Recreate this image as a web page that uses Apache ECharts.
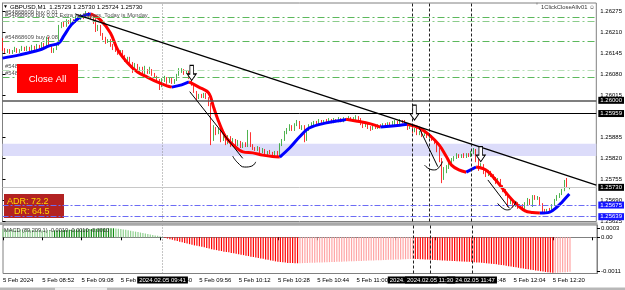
<!DOCTYPE html>
<html><head><meta charset="utf-8">
<script src="https://cdn.jsdelivr.net/npm/echarts@6/dist/echarts.min.js"></script>
<style>html,body{margin:0;padding:0;background:#fff}#c{width:625px;height:290px}</style>
</head><body><div id="c"></div>
<script>
// ---- time axis (M1 bars, 5 Feb 2024) ----
const firstBarTime = '08:36';
const barSlots = 243;               // 08:36 .. 12:38 (chart shift included)
const firstTickLabel = '5 Feb 2024';

// ---- candles (GBPUSD M1) ----
const opens = [
1.26187,1.26156,1.26150,1.26156,1.26147,1.26153,1.26159,1.26150,1.26156,1.26162,
1.26156,1.26162,1.26156,1.26166,1.26159,1.26169,1.26162,1.26175,1.26166,1.26193,
1.26169,1.26150,1.26159,1.26172,1.26228,1.26237,1.26231,1.26246,1.26240,1.26249,
1.26243,1.26255,1.26252,1.26262,1.26259,1.26271,1.26265,1.26255,1.26243,1.26218,
1.26231,1.26203,1.26193,1.26181,1.26187,1.26169,1.26162,1.26156,1.26147,1.26153,
1.26138,1.26125,1.26131,1.26113,1.26094,1.26110,1.26091,1.26100,1.26082,1.26094,
1.26085,1.26094,1.26079,1.26072,1.26063,1.26045,1.26063,1.26069,1.26057,1.26066,
1.26054,1.26063,1.26079,1.26088,1.26094,1.26085,1.26088,1.26069,1.26048,1.26026,
1.26007,1.26017,1.26010,1.26020,1.26007,1.25985,1.25877,1.25914,1.25898,1.25908,
1.25877,1.25892,1.25867,1.25886,1.25861,1.25877,1.25861,1.25870,1.25855,1.25867,
1.25858,1.25898,1.25858,1.25852,1.25846,1.25852,1.25840,1.25846,1.25830,1.25840,
1.25836,1.25830,1.25840,1.25827,1.25861,1.25877,1.25898,1.25908,1.25920,1.25908,
1.25923,1.25932,1.25914,1.25920,1.25877,1.25908,1.25923,1.25926,1.25932,1.25926,
1.25936,1.25929,1.25936,1.25932,1.25939,1.25932,1.25939,1.25936,1.25942,1.25936,
1.25942,1.25939,1.25945,1.25939,1.25942,1.25948,1.25942,1.25926,1.25920,1.25929,
1.25917,1.25911,1.25920,1.25914,1.25923,1.25920,1.25926,1.25923,1.25929,1.25923,
1.25929,1.25932,1.25929,1.25936,1.25932,1.25926,1.25914,1.25917,1.25905,1.25911,
1.25895,1.25901,1.25892,1.25895,1.25886,1.25889,1.25877,1.25870,1.25846,1.25815,
1.25762,1.25784,1.25790,1.25808,1.25815,1.25821,1.25830,1.25824,1.25830,1.25824,
1.25833,1.25827,1.25836,1.25846,1.25815,1.25790,1.25799,1.25777,1.25768,1.25777,
1.25768,1.25759,1.25746,1.25753,1.25734,1.25722,1.25709,1.25681,1.25691,1.25675,
1.25681,1.25669,1.25675,1.25666,1.25678,1.25691,1.25681,1.25700,1.25694,1.25697,
1.25678,1.25660,1.25653,1.25660,1.25656,1.25675,1.25691,1.25700,1.25709,1.25722,
1.25746,1.25729];
const closes = [
1.26156,1.26150,1.26156,1.26147,1.26153,1.26159,1.26150,1.26156,1.26162,1.26156,
1.26162,1.26156,1.26166,1.26159,1.26169,1.26162,1.26175,1.26166,1.26193,1.26169,
1.26150,1.26159,1.26172,1.26228,1.26237,1.26231,1.26246,1.26240,1.26249,1.26243,
1.26255,1.26252,1.26262,1.26259,1.26271,1.26265,1.26255,1.26243,1.26218,1.26231,
1.26203,1.26193,1.26181,1.26187,1.26169,1.26162,1.26156,1.26147,1.26153,1.26138,
1.26125,1.26131,1.26113,1.26094,1.26110,1.26091,1.26100,1.26082,1.26094,1.26085,
1.26094,1.26079,1.26072,1.26063,1.26045,1.26063,1.26069,1.26057,1.26066,1.26054,
1.26063,1.26079,1.26088,1.26094,1.26085,1.26088,1.26069,1.26048,1.26026,1.26007,
1.26017,1.26010,1.26020,1.26007,1.25985,1.25877,1.25914,1.25898,1.25908,1.25877,
1.25892,1.25867,1.25886,1.25861,1.25877,1.25861,1.25870,1.25855,1.25867,1.25858,
1.25898,1.25858,1.25852,1.25846,1.25852,1.25840,1.25846,1.25830,1.25840,1.25836,
1.25830,1.25840,1.25827,1.25861,1.25877,1.25898,1.25908,1.25920,1.25908,1.25923,
1.25932,1.25914,1.25920,1.25877,1.25908,1.25923,1.25926,1.25932,1.25926,1.25936,
1.25929,1.25936,1.25932,1.25939,1.25932,1.25939,1.25936,1.25942,1.25936,1.25942,
1.25939,1.25945,1.25939,1.25942,1.25948,1.25942,1.25926,1.25920,1.25929,1.25917,
1.25911,1.25920,1.25914,1.25923,1.25920,1.25926,1.25923,1.25929,1.25923,1.25929,
1.25932,1.25929,1.25936,1.25932,1.25926,1.25914,1.25917,1.25905,1.25911,1.25895,
1.25901,1.25892,1.25895,1.25886,1.25889,1.25877,1.25870,1.25846,1.25815,1.25762,
1.25784,1.25790,1.25808,1.25815,1.25821,1.25830,1.25824,1.25830,1.25824,1.25833,
1.25827,1.25836,1.25846,1.25815,1.25790,1.25799,1.25777,1.25768,1.25777,1.25768,
1.25759,1.25746,1.25753,1.25734,1.25722,1.25709,1.25681,1.25691,1.25675,1.25681,
1.25669,1.25675,1.25666,1.25678,1.25691,1.25681,1.25700,1.25694,1.25697,1.25678,
1.25660,1.25653,1.25660,1.25656,1.25675,1.25691,1.25700,1.25709,1.25722,1.25746,
1.25731,1.25730];
const lows = [
1.26153,1.26147,1.26147,1.26144,1.26144,1.26150,1.26147,1.26147,1.26153,1.26153,
1.26153,1.26150,1.26153,1.26156,1.26156,1.26159,1.26159,1.26162,1.26162,1.26166,
1.26147,1.26147,1.26156,1.26169,1.26224,1.26228,1.26228,1.26237,1.26237,1.26240,
1.26240,1.26249,1.26249,1.26252,1.26255,1.26259,1.26252,1.26237,1.26212,1.26215,
1.26200,1.26187,1.26175,1.26178,1.26166,1.26156,1.26150,1.26141,1.26144,1.26135,
1.26119,1.26122,1.26107,1.26085,1.26091,1.26088,1.26088,1.26079,1.26079,1.26082,
1.26082,1.26076,1.26069,1.26060,1.26032,1.26041,1.26057,1.26051,1.26054,1.26051,
1.26051,1.26060,1.26076,1.26085,1.26079,1.26082,1.26066,1.26045,1.26023,1.26001,
1.26004,1.26007,1.26007,1.26004,1.25982,1.25861,1.25874,1.25892,1.25895,1.25870,
1.25874,1.25861,1.25864,1.25855,1.25858,1.25855,1.25858,1.25852,1.25852,1.25855,
1.25855,1.25855,1.25846,1.25843,1.25843,1.25836,1.25836,1.25827,1.25827,1.25833,
1.25824,1.25827,1.25821,1.25824,1.25858,1.25874,1.25895,1.25905,1.25905,1.25905,
1.25920,1.25911,1.25908,1.25870,1.25874,1.25905,1.25920,1.25923,1.25923,1.25923,
1.25926,1.25926,1.25929,1.25929,1.25929,1.25929,1.25932,1.25932,1.25932,1.25932,
1.25936,1.25936,1.25936,1.25936,1.25939,1.25939,1.25923,1.25914,1.25917,1.25911,
1.25905,1.25908,1.25911,1.25911,1.25917,1.25917,1.25920,1.25920,1.25920,1.25920,
1.25923,1.25926,1.25926,1.25929,1.25923,1.25908,1.25911,1.25898,1.25901,1.25892,
1.25892,1.25886,1.25889,1.25883,1.25883,1.25874,1.25864,1.25839,1.25808,1.25743,
1.25753,1.25774,1.25787,1.25802,1.25811,1.25818,1.25821,1.25821,1.25821,1.25821,
1.25824,1.25824,1.25833,1.25808,1.25781,1.25787,1.25771,1.25762,1.25765,1.25762,
1.25753,1.25740,1.25743,1.25728,1.25715,1.25703,1.25669,1.25678,1.25669,1.25669,
1.25663,1.25666,1.25660,1.25663,1.25675,1.25675,1.25669,1.25691,1.25691,1.25672,
1.25653,1.25647,1.25650,1.25653,1.25653,1.25672,1.25688,1.25697,1.25706,1.25718,
1.25728,1.25724];
const highs = [
1.26193,1.26162,1.26159,1.26159,1.26156,1.26166,1.26162,1.26159,1.26169,1.26166,
1.26169,1.26166,1.26172,1.26169,1.26175,1.26172,1.26181,1.26178,1.26197,1.26197,
1.26172,1.26162,1.26175,1.26234,1.26243,1.26243,1.26252,1.26249,1.26255,1.26252,
1.26262,1.26262,1.26268,1.26268,1.26277,1.26274,1.26268,1.26259,1.26255,1.26234,
1.26234,1.26209,1.26197,1.26190,1.26190,1.26175,1.26166,1.26159,1.26156,1.26156,
1.26141,1.26135,1.26135,1.26119,1.26116,1.26113,1.26104,1.26104,1.26107,1.26097,
1.26104,1.26097,1.26085,1.26076,1.26066,1.26069,1.26076,1.26072,1.26072,1.26069,
1.26066,1.26082,1.26100,1.26100,1.26097,1.26094,1.26091,1.26072,1.26051,1.26029,
1.26020,1.26020,1.26023,1.26023,1.26010,1.25992,1.25923,1.25917,1.25914,1.25911,
1.25898,1.25895,1.25892,1.25889,1.25883,1.25880,1.25877,1.25874,1.25870,1.25870,
1.25908,1.25901,1.25864,1.25855,1.25858,1.25855,1.25852,1.25849,1.25843,1.25846,
1.25840,1.25843,1.25843,1.25867,1.25880,1.25905,1.25914,1.25926,1.25923,1.25929,
1.25939,1.25936,1.25923,1.25923,1.25911,1.25926,1.25932,1.25936,1.25936,1.25942,
1.25939,1.25939,1.25942,1.25945,1.25942,1.25945,1.25942,1.25948,1.25945,1.25948,
1.25945,1.25951,1.25948,1.25948,1.25954,1.25951,1.25945,1.25929,1.25932,1.25932,
1.25920,1.25923,1.25923,1.25926,1.25926,1.25929,1.25929,1.25932,1.25932,1.25936,
1.25939,1.25936,1.25942,1.25939,1.25939,1.25929,1.25920,1.25920,1.25914,1.25914,
1.25905,1.25905,1.25898,1.25898,1.25892,1.25892,1.25880,1.25874,1.25852,1.25821,
1.25793,1.25799,1.25815,1.25821,1.25827,1.25836,1.25833,1.25833,1.25836,1.25836,
1.25836,1.25843,1.25852,1.25849,1.25818,1.25805,1.25802,1.25781,1.25784,1.25781,
1.25771,1.25762,1.25759,1.25756,1.25737,1.25725,1.25712,1.25697,1.25694,1.25688,
1.25684,1.25678,1.25678,1.25684,1.25697,1.25694,1.25706,1.25706,1.25703,1.25700,
1.25681,1.25663,1.25663,1.25666,1.25678,1.25694,1.25706,1.25712,1.25725,1.25753,
1.25759,1.25730];

// ---- colour-changing moving average (bar index, price) ----
const maIdx = [0,7,15,19,23,25,28,31,34,36,40,44,47,51,55,59,63,67,69,73,76,80,84,86,88,91,95,98,102,106,110,113,117,121,125,132,139,140,144,150,154,162,165,170,174,178,181,183,186,189,193,197,201,205,209,213,216,219,223,226,228,231];
const maVals = [1.26131,1.26141,1.26156,1.26169,1.26178,1.26200,1.26234,1.26255,1.26265,1.26268,1.26249,1.26209,1.26156,1.26116,1.26088,1.26072,1.26057,1.26045,1.26041,1.26048,1.26057,1.26041,1.26023,1.25979,1.25936,1.25886,1.25855,1.25840,1.25837,1.25830,1.25826,1.25824,1.25852,1.25886,1.25914,1.25930,1.25939,1.25941,1.25936,1.25927,1.25917,1.25923,1.25926,1.25914,1.25892,1.25861,1.25824,1.25799,1.25784,1.25777,1.25793,1.25784,1.25753,1.25715,1.25681,1.25657,1.25652,1.25650,1.25653,1.25669,1.25684,1.25709];

// ---- MACD (89,209,1) histogram ----
const macdHist = [
0.000260,0.000258,0.000256,0.000254,0.000252,0.000250,0.000248,0.000246,0.000244,0.000242,0.000240,0.000238,0.000236,0.000234,0.000232,0.000230,0.000228,0.000226,0.000224,0.000222,0.000220,
0.000222,0.000225,0.000228,0.000231,0.000234,0.000237,0.000240,0.000243,0.000246,0.000249,0.000252,0.000255,0.000258,0.000261,0.000264,0.000267,0.000270,0.000273,0.000276,0.000279,0.000281,0.000283,0.000285,0.000287,0.000289,
0.000285,0.000276,0.000265,0.000253,0.000240,0.000226,0.000211,0.000196,0.000181,0.000166,0.000151,0.000136,0.000121,0.000106,0.000091,0.000076,0.000061,0.000046,0.000031,0.000016,
-0.00002,-0.00004,-0.00006,-0.00008,-0.00010,-0.00012,-0.00014,-0.00016,-0.00018,-0.00020,-0.00022,-0.00024,-0.00026,-0.00027,-0.00029,-0.00030,-0.00032,-0.00034,-0.00036,-0.00038,-0.00040,-0.00041,-0.00043,-0.00044,-0.00046,-0.00047,-0.00048,-0.00050,-0.00051,-0.00053,-0.00054,-0.00056,-0.00057,-0.00059,-0.00060,-0.00062,-0.00063,-0.00065,-0.00066,-0.00068,-0.00069,-0.00071,-0.00072,-0.00074,-0.00075,-0.00077,-0.00078,-0.00079,-0.00080,-0.00081,-0.00082,-0.000822,-0.000826,-0.000829,-0.000831,
-0.000828,-0.000826,-0.000823,-0.000821,-0.000818,-0.000814,-0.000812,-0.000809,-0.000805,-0.000803,-0.000800,-0.000797,-0.000795,-0.000791,-0.000788,-0.000786,-0.000782,-0.000779,-0.000777,-0.000773,-0.000770,-0.000768,-0.000764,-0.000761,-0.000758,-0.000755,-0.000753,-0.000749,-0.000746,-0.000744,-0.000740,-0.000737,-0.000735,-0.000731,-0.000728,-0.000725,-0.000722,-0.000720,-0.000716,-0.000713,-0.000710,-0.000707,-0.000704,-0.000701,-0.000698,-0.000695,-0.000692,
-0.000695,-0.000698,-0.000702,-0.000706,-0.000710,-0.000714,-0.000718,-0.000722,-0.000727,-0.000732,-0.000737,-0.000741,-0.000745,-0.000749,-0.000753,-0.000757,-0.000761,-0.000765,-0.000769,-0.000773,-0.000777,-0.000781,-0.000786,-0.000791,-0.000797,-0.000803,-0.000810,-0.000817,-0.000824,-0.000832,-0.000840,-0.000848,-0.000857,-0.000866,-0.000876,-0.000886,-0.000897,-0.000910,-0.000923,-0.000936,-0.000949,-0.000962,-0.000975,-0.000988,-0.001000,-0.001012,-0.001024,-0.001036,-0.001048,-0.001060,-0.001072,-0.001084,-0.001096,-0.001108,-0.001120,-0.001130,-0.001138,
-0.001135,-0.001131,-0.001127,-0.001122,-0.001117,-0.001111,-0.001105];

// ---- axis ticks ----
const priceTicks = [1.26275,1.26210,1.26145,1.26080,1.26015,1.25885,1.25820,1.25755,1.25690,1.25625];
const macdTicks = [0.0003, 0, -0.0011];

// ---- drawn objects / levels ----
const orderLevels = [1.26258, 1.26245, 1.26183, 1.26092, 1.26071];
const orderLevelColors = ['#5cb85c','#8ccc8c','#5cb85c','#b8e0b8','#5cb85c'];
const srLevels = [1.26000, 1.25959];
const pivotLevels = [1.25675, 1.25639];
const currentPrice = 1.25730;
const zoneBand = [1.25827, 1.25865];
const trendLine = [[30, 1.26267], [242, 1.25737]];
const moveLines = [[[76.3,1.26027],[97.9,1.25820]], [[169.9,1.25913],[177.4,1.25794]], [[197.8,1.25753],[206.6,1.25665]]];
const arcs = [
  [[93.8,1.25827],[95.9,1.25806],[98.7,1.25793],[101.6,1.25796],[103.2,1.25809]],
  [[172.0,1.25799],[174.0,1.25787],[176.1,1.25784],[178.1,1.25794],[179.3,1.25810]],
  [[201.8,1.25680],[203.9,1.25665],[205.9,1.25660],[208.0,1.25670],[209.3,1.25686]]];
const arrowMarks = [[77.1,1.26085],[167.9,1.25962],[194.9,1.25833]];
const pipLabels = [['20p',104.9,1.25784],['8p',175.2,1.25750],['10p',197,1.25681]];
const pivotLabels = [['Daily S1',211,1.25661],['Weekly S1',200.5,1.25630]];
const vLines = [65, 167, 191, 174];
const vLineLabels = ['2024.02.05 09:41','2024.02.05 11:23','2024.02.05 11:47','2024.02.05 11:30'];

// ---------------------------------------------------------------
const FONT = 'Liberation Sans';
const [h0, m0] = firstBarTime.split(':').map(Number);
const cats = [];
for (let k = 0; k < barSlots; k++) {
  const t = h0 * 60 + m0 + k;
  cats.push(String(Math.floor(t / 60)).padStart(2, '0') + ':' + String(t % 60).padStart(2, '0'));
}
const candleData = opens.map((o, k) => [o, closes[k], lows[k], highs[k]]);

// MA split into rising (blue) / falling (red) runs
const maSeries = [];
let run = null;
for (let k = 1; k < maIdx.length; k++) {
  const up = maVals[k] > maVals[k - 1];
  if (!run || run.up !== up) {
    run = { up, pts: [[maIdx[k - 1], maVals[k - 1]]] };
    maSeries.push(run);
  }
  run.pts.push([maIdx[k], maVals[k]]);
}

function macdColor(k) {
  const v = macdHist[k], p = k > 0 ? macdHist[k - 1] : v;
  if (v >= 0) return v > p ? '#128c12' : '#8fd08f';
  return v < p ? '#ff0000' : '#ffa4a4';
}

const boxLabel = (txt, bg) => ({ show: true, position: 'end', formatter: txt, backgroundColor: bg, color: '#fff',
  fontSize: 6, fontFamily: FONT, padding: [1, 2, 0, 2], distance: 2 });

// horizontal price levels
const hLines = [];
orderLevels.forEach((v, k) => hLines.push({ yAxis: v, lineStyle: { color: orderLevelColors[k], width: 1, type: [7, 3, 2, 3] }, label: { show: false } }));
hLines.push({ yAxis: currentPrice, lineStyle: { color: '#c8c8c8', width: 1, type: 'solid' }, label: boxLabel(currentPrice.toFixed(5), '#000') });
hLines.push({ yAxis: srLevels[0], lineStyle: { color: '#555', width: 1.5, type: 'solid' }, label: boxLabel(srLevels[0].toFixed(5), '#000') });
hLines.push({ yAxis: srLevels[1], lineStyle: { color: '#000', width: 1, type: 'solid' }, label: boxLabel(srLevels[1].toFixed(5), '#000') });
pivotLevels.forEach(v => hLines.push({ yAxis: v, lineStyle: { color: '#6c6cf4', width: 1, type: [6, 2, 2, 2] }, label: boxLabel(v.toFixed(5), '#1414ff') }));

// vertical lines (main panel)
const vLinesMain = vLines.map((ix, k) => ({ xAxis: cats[ix], lineStyle: k === 0 ? { color: '#8a8a8a', width: 1, type: [1, 2] } : { color: '#222', width: 1, type: [3, 2] }, label: { show: false } }));

const annotLines = hLines.slice();
annotLines.push([{ coord: trendLine[0], lineStyle: { color: '#000', width: 1.3, type: 'solid' } }, { coord: trendLine[1] }]);
moveLines.forEach(l => annotLines.push([{ coord: l[0], lineStyle: { color: '#000', width: 1, type: 'solid' } }, { coord: l[1] }]));

const annotPoints = [];
arrowMarks.forEach(a => annotPoints.push({ coord: a, symbol: 'path://M3,0 L7,0 L7,8 L10,8 L5,14 L0,8 L3,8 Z', symbolSize: [9, 15],
  itemStyle: { color: '#fff', borderColor: '#000', borderWidth: 1 }, label: { show: false } }));
pipLabels.forEach(p => annotPoints.push({ coord: [p[1], p[2]], symbol: 'rect', symbolSize: 1, itemStyle: { opacity: 0 },
  label: { show: true, position: 'inside', formatter: p[0], color: '#111', fontSize: 8.5, fontWeight: 'bold', fontFamily: FONT } }));
pivotLabels.forEach(p => annotPoints.push({ coord: [p[1], p[2]], symbol: 'rect', symbolSize: 1, itemStyle: { opacity: 0 },
  label: { show: true, position: 'inside', formatter: p[0], color: '#6a6af2', fontSize: 6, fontFamily: FONT } }));

const series = [
  {
    type: 'candlestick', xAxisIndex: 0, yAxisIndex: 0, data: candleData, barWidth: 1.1, z: 2,
    itemStyle: { color: '#22a022', color0: '#ff0000', borderColor: '#22a022', borderColor0: '#ff0000', borderWidth: 0.8 },
    markArea: { silent: true, itemStyle: { color: '#dcdcfa' }, data: [[{ yAxis: zoneBand[0] }, { yAxis: zoneBand[1] }]] },
    markLine: { silent: true, precision: 5, symbol: ['none', 'none'], label: { show: false }, data: vLinesMain }
  }
];
maSeries.forEach(r => series.push({
  type: 'line', xAxisIndex: 2, yAxisIndex: 0, data: r.pts, smooth: 0.35, symbol: 'none', z: 4,
  lineStyle: { color: r.up ? '#0000ff' : '#ff0000', width: 3 }
}));
arcs.forEach((a, k) => {
  const s = { type: 'line', xAxisIndex: 2, yAxisIndex: 0, data: a, smooth: 0.5, symbol: 'none', z: 6,
    lineStyle: { color: '#000', width: 1 } };
  if (k === 0) {
    s.markLine = { silent: true, precision: 5, symbol: ['none', 'none'], label: { show: false }, data: annotLines };
    s.markPoint = { silent: true, data: annotPoints };
  }
  series.push(s);
});
series.push({
  type: 'bar', xAxisIndex: 1, yAxisIndex: 1, barWidth: 1.2,
  data: macdHist.map((v, k) => ({ value: v, itemStyle: { color: macdColor(k) } })),
  markLine: {
    silent: true, symbol: ['none', 'none'],
    data: vLines.map((ix, k) => ({
      xAxis: cats[ix],
      lineStyle: k === 0 ? { color: '#8a8a8a', width: 1, type: [1, 2] } : { color: '#222', width: 1, type: [3, 2] },
      label: { show: true, position: 'start', formatter: vLineLabels[k], backgroundColor: '#000', color: '#fff',
        fontSize: 6, fontFamily: FONT, padding: [1, 2, 0, 2], distance: 3 }
    }))
  }
});

const gtext = (x, y, text, size, fill, extra, z) => ({ type: 'text', x, y, z: z || 20,
  style: Object.assign({ text, fontSize: size, fontFamily: FONT, fill, verticalAlign: 'middle' }, extra || {}) });

const option = {
  animation: false,
  backgroundColor: '#fff',
  textStyle: { fontFamily: FONT },
  grid: [
    { left: 2.5, right: 28, top: 3, height: 218.5, show: true, borderColor: '#808080', borderWidth: 1, backgroundColor: '#fff' },
    { left: 2.5, right: 28, top: 225, height: 48.5, show: true, borderColor: '#808080', borderWidth: 1, backgroundColor: '#fff' }
  ],
  xAxis: [
    { type: 'category', gridIndex: 0, data: cats, boundaryGap: false, axisLine: { show: false }, axisTick: { show: false }, axisLabel: { show: false }, splitLine: { show: false } },
    { type: 'category', gridIndex: 1, data: cats, boundaryGap: false,
      axisLine: { show: true, lineStyle: { color: '#808080' } },
      axisTick: { show: true, interval: 15, length: 3, lineStyle: { color: '#000' } },
      axisLabel: { show: true, interval: 15, align: 'left', margin: 4, fontSize: 6, color: '#000',
        formatter: (v, i) => i === 0 ? firstTickLabel : (i > opens.length ? '' : '5 Feb ' + v) },
      splitLine: { show: false } },
    { type: 'value', gridIndex: 0, min: 0, max: barSlots - 1, show: false }
  ],
  yAxis: [
    { type: 'value', gridIndex: 0, position: 'right', min: 1.25624, max: 1.26302,
      axisLine: { show: true, lineStyle: { color: '#808080' } },
      axisTick: { show: true, customValues: priceTicks, length: 3, lineStyle: { color: '#000' } },
      axisLabel: { show: true, customValues: priceTicks, formatter: v => v.toFixed(5), fontSize: 6, color: '#000', margin: 4 },
      splitLine: { show: false } },
    { type: 'value', gridIndex: 1, position: 'right', min: -0.001158, max: 0.000393,
      axisLine: { show: true, lineStyle: { color: '#808080' } },
      axisTick: { show: true, customValues: macdTicks, length: 3, lineStyle: { color: '#000' } },
      axisLabel: { show: true, customValues: macdTicks, formatter: v => v === 0 ? '0.00' : v.toFixed(4), fontSize: 6, color: '#000', margin: 4 },
      splitLine: { show: false } }
  ],
  series,
  graphic: [
    gtext(3, 7, '\u25BC', 5, '#000'),
    gtext(10, 7, 'GBPUSD,M1  1.25729 1.25730 1.25724 1.25730', 6.1, '#000'),
    gtext(535, 3.5, '\u25BC', 4, '#9a9a9a'),
    gtext(541, 7.5, '1ClickCloseAllv01 \u263A', 5.8, '#333'),
    gtext(5, 12, '#54868609 buy 0.01', 5.8, '#505050'),
    gtext(5, 15, '#54868609 buy 0.01 Extra for Buyers, Today is Monday', 5.8, '#505050'),
    gtext(5, 37, '#54868609 buy 0.08', 5.8, '#505050'),
    gtext(5, 66.5, '#54868609 buy 0.01', 5.8, '#505050'),
    gtext(5, 73, '#54868609 buy 0.01', 5.8, '#505050'),
    { type: 'rect', z: 100, shape: { x: 17, y: 64, width: 61, height: 29 }, style: { fill: '#ff0000' } },
    gtext(47.5, 79, 'Close All', 9.5, '#fff', { align: 'center' }, 101),
    { type: 'rect', z: 1, shape: { x: 4, y: 194, width: 60, height: 24 }, style: { fill: '#b22222' } },
    gtext(7, 201.5, 'ADR: 72.2', 9, '#ffd700', null, 1),
    gtext(14, 212, 'DR: 64.5', 9, '#ffd700', null, 1),
    { type: 'rect', z: 50, shape: { x: 0, y: 222.3, width: 597.5, height: 2.7 }, style: { fill: '#a8a8a8' } },
    gtext(4, 230, 'MACD (89,209,1) -0.0010 -0.0010 -0.0010', 5.6, '#303030'),
    { type: 'rect', z: 50, shape: { x: 0, y: 287.5, width: 625, height: 2.5 }, style: { fill: '#b8b8b8' } },
    { type: 'rect', z: 51, shape: { x: 55, y: 287.5, width: 52, height: 2.5 }, style: { fill: '#ececec' } }
  ]
};
const chart = echarts.init(document.getElementById('c'), null, { renderer: 'canvas', width: 625, height: 290 });
chart.setOption(option);
</script>
</body></html>
